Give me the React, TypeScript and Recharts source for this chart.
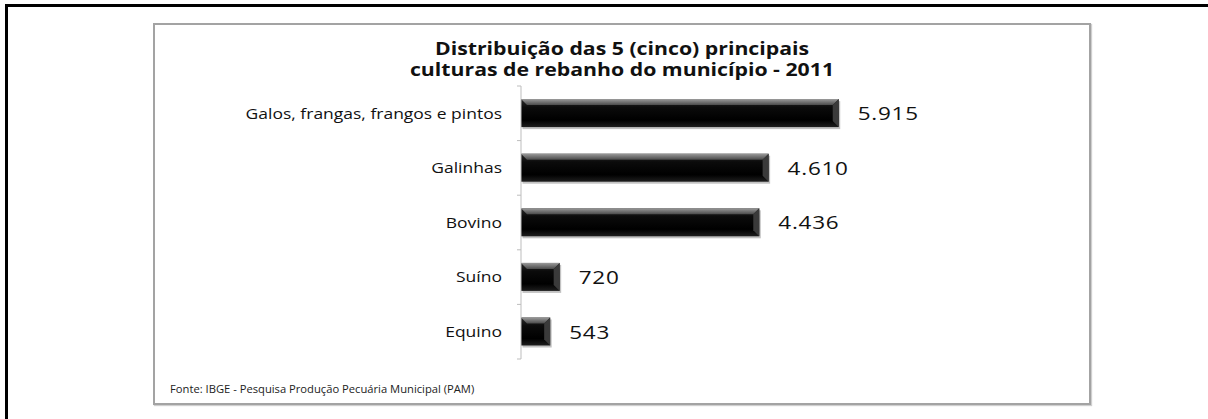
import { Bar, BarChart, LabelList, XAxis, YAxis } from "recharts";

const categories = [
  "Galos, frangas, frangos e pintos",
  "Galinhas",
  "Bovino",
  "Suíno",
  "Equino",
];
const heads = [5915, 4610, 4436, 720, 543];

const titleLines = [
  "Distribuição das 5 (cinco) principais",
  "culturas de rebanho do município - 2011",
];
const sourceNote = "Fonte: IBGE - Pesquisa Produção Pecuária Municipal (PAM)";

const FONT = "'Open Sans', 'DejaVu Sans', sans-serif";
const TICK_SIZE = 4;
const TICK_MARGIN = 15;
// the source picture is stretched sideways, so text is widened to match
const STRETCH = 1.25;

const data = categories.map((name, i) => ({ name, value: heads[i] }));

// pt-BR thousands separator, e.g. 5915 -> "5.915"
const fmt = (v: number) => String(v).replace(/\B(?=(\d{3})+(?!\d))/g, ".");

function CategoryTick(props: any) {
  const { x, y, payload, index, visibleTicksCount } = props;
  const half = payload?.offset || 27.3;
  const axisX = x + TICK_SIZE + TICK_MARGIN;
  const last = index === visibleTicksCount - 1;
  return (
    <g>
      <line x1={axisX - TICK_SIZE} x2={axisX} y1={y - half} y2={y - half} stroke="#bdbdbd" />
      {last && (
        <line x1={axisX - TICK_SIZE} x2={axisX} y1={y + half} y2={y + half} stroke="#bdbdbd" />
      )}
      <text
        transform={`translate(${x},${y}) scale(${STRETCH},1)`}
        textAnchor="end"
        dominantBaseline="central"
        fontFamily={FONT}
        fontSize={14}
        fill="#111"
      >
        {payload.value}
      </text>
    </g>
  );
}

function ValueLabel(props: any) {
  const { x, y, width, height, value } = props;
  const lx = Number(x) + Number(width) + 19;
  const ly = Number(y) + Number(height) / 2;
  return (
    <text
      transform={`translate(${lx},${ly}) scale(${STRETCH},1)`}
      dominantBaseline="central"
      fontFamily={FONT}
      fontSize={18}
      fill="#111"
      letterSpacing={0.6}
    >
      {fmt(Number(value))}
    </text>
  );
}

function BevelBar(props: any) {
  const { x, y, width, height } = props;
  if (!width || width <= 0) return <g />;
  const b = Math.min(6, height / 4, width / 4);
  return (
    <g>
      <rect x={x + 1.5} y={y + 2} width={width} height={height} fill="#8f8f8f" opacity={0.55} />
      <rect x={x} y={y} width={width} height={height} fill="url(#barBody)" />
      <polygon
        points={`${x},${y} ${x + width},${y} ${x + width - b},${y + b} ${x + b},${y + b}`}
        fill="url(#barTop)"
      />
      <polygon
        points={`${x + width},${y} ${x + width},${y + height} ${x + width - b},${y + height - b} ${x + width - b},${y + b}`}
        fill="#3a3a3a"
      />
    </g>
  );
}

export default function App() {
  return (
    <div
      style={{
        position: "absolute",
        left: 0,
        top: 0,
        width: 1208,
        height: 419,
        background: "#fff",
        overflow: "hidden",
      }}
    >
      {/* outer frame: only top and left edges show */}
      <div
        style={{
          position: "absolute",
          left: 5,
          top: 4,
          width: 1203,
          height: 415,
          borderTop: "3px solid #000",
          borderLeft: "3px solid #000",
        }}
      />
      {/* chart box */}
      <div
        style={{
          position: "absolute",
          left: 153,
          top: 23,
          width: 934,
          height: 378,
          border: "2px solid #a3a3a3",
          boxShadow: "1px 1px 1px #cfcfcf",
        }}
      />
      {titleLines.map((t, i) => (
        <div
          key={t}
          style={{
            position: "absolute",
            left: 155,
            width: 934,
            top: 39 + i * 21,
            textAlign: "center",
            fontFamily: FONT,
            fontWeight: 700,
            fontSize: 17,
            lineHeight: "20px",
            color: "#111",
            transform: `scaleX(${STRETCH})`,
            transformOrigin: "50% 50%",
          }}
        >
          {t}
        </div>
      ))}
      <div
        style={{
          position: "absolute",
          left: 170,
          top: 382,
          fontFamily: FONT,
          fontSize: 10,
          lineHeight: "14px",
          color: "#222",
          transform: "scaleX(1.12)",
          transformOrigin: "0 50%",
          whiteSpace: "nowrap",
        }}
      >
        {sourceNote}
      </div>
      <div style={{ position: "absolute", left: 0, top: 0 }}>
        <BarChart
          width={1208}
          height={419}
          data={data}
          layout="vertical"
          margin={{ top: 86, right: 311, bottom: 60, left: 161 }}
          barCategoryGap="24%"
        >
          <defs>
            <linearGradient id="barBody" x1="0" y1="0" x2="0" y2="1">
              <stop offset="0%" stopColor="#2b2b2b" />
              <stop offset="30%" stopColor="#0b0b0b" />
              <stop offset="75%" stopColor="#000" />
              <stop offset="100%" stopColor="#1e1e1e" />
            </linearGradient>
            <linearGradient id="barTop" x1="0" y1="0" x2="0" y2="1">
              <stop offset="0%" stopColor="#9a9a9a" />
              <stop offset="100%" stopColor="#4a4a4a" />
            </linearGradient>
          </defs>
          <XAxis type="number" domain={[0, 7000]} hide />
          <YAxis
            type="category"
            dataKey="name"
            width={360}
            axisLine={{ stroke: "#bdbdbd" }}
            tickLine={false}
            tickSize={TICK_SIZE}
            tickMargin={TICK_MARGIN}
            tick={<CategoryTick />}
            interval={0}
          />
          <Bar dataKey="value" shape={<BevelBar />} isAnimationActive={false}>
            <LabelList dataKey="value" content={<ValueLabel />} />
          </Bar>
        </BarChart>
      </div>
    </div>
  );
}
